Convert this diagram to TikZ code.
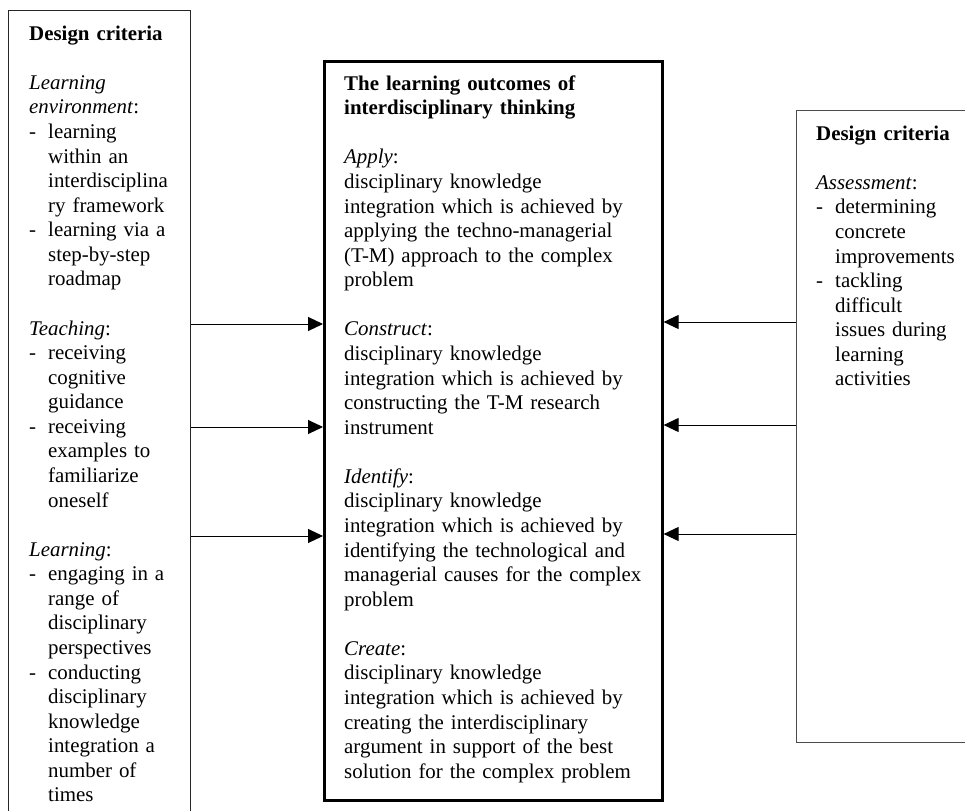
\documentclass[tikz,border=0pt]{standalone}
\usepackage{fontspec}
\setmainfont{Liberation Serif}
\usetikzlibrary{arrows.meta}

% body text: Times-like, 1.15 line spacing
\newcommand\bodyfont{\fontsize{20.9pt}{24.57pt}\selectfont}
\newcommand\dashitem{\makebox[19pt][l]{-}}
\newcommand\contline{\hspace*{19pt}}
\newcommand\firstline{\rule{0pt}{22pt}}

\tikzset{
  leftframe/.style={draw=black!85, line width=1.2pt, inner sep=0pt, anchor=north west},
  midframe/.style={draw=black, line width=2.6pt, inner sep=0pt, anchor=north west},
  rightframe/.style={draw=black!70, line width=1.4pt, inner sep=0pt, anchor=north west},
  textcol/.style={anchor=north west, inner sep=0pt, align=left, text width=#1, font=\bodyfont},
  feed/.style={draw=black, line width=1pt, -{Triangle[length=15pt,width=14pt]}},
}

\begin{document}
\begin{tikzpicture}[x=1pt,y=-1pt]
\useasboundingbox (0,0) rectangle (965,810);
\clip (0,0) rectangle (965,810);

% frames
\node[leftframe, minimum width=182pt, minimum height=830pt] (L) at (8,10) {};
\node[midframe, minimum width=338pt, minimum height=739pt] (C) at (323,60) {};
\node[rightframe, minimum width=200pt, minimum height=632pt] (R) at (796,110) {};

% left column: design criteria
\node[textcol=158pt] (Ltext) at (29,18) {\firstline\textbf{Design criteria}\\[24.57pt]
\textit{Learning}\\
\textit{environment}:\\
\dashitem learning\\
\contline within an\\
\contline interdisciplina\\
\contline ry framework\\
\dashitem learning via a\\
\contline step-by-step\\
\contline roadmap\\[24.57pt]
\textit{Teaching}:\\
\dashitem receiving\\
\contline cognitive\\
\contline guidance\\
\dashitem receiving\\
\contline examples to\\
\contline familiarize\\
\contline oneself\\[24.57pt]
\textit{Learning}:\\
\dashitem engaging in a\\
\contline range of\\
\contline disciplinary\\
\contline perspectives\\
\dashitem conducting\\
\contline disciplinary\\
\contline knowledge\\
\contline integration a\\
\contline number of\\
\contline times};

% middle column: learning outcomes
\node[textcol=310pt] (Ctext) at (344,68) {\firstline\textbf{The learning outcomes of}\\
\textbf{interdisciplinary thinking}\\[24.57pt]
\textit{Apply}:\\
disciplinary knowledge\\
integration which is achieved by\\
applying the techno-managerial\\
(T-M) approach to the complex\\
problem\\[24.57pt]
\textit{Construct}:\\
disciplinary knowledge\\
integration which is achieved by\\
constructing the T-M research\\
instrument\\[24.57pt]
\textit{Identify}:\\
disciplinary knowledge\\
integration which is achieved by\\
identifying the technological and\\
managerial causes for the complex\\
problem\\[24.57pt]
\textit{Create}:\\
disciplinary knowledge\\
integration which is achieved by\\
creating the interdisciplinary\\
argument in support of the best\\
solution for the complex problem};

% right column: assessment criteria
\node[textcol=149pt] (Rtext) at (816,118) {\firstline\textbf{Design criteria}\\[24.57pt]
\textit{Assessment}:\\
\dashitem determining\\
\contline concrete\\
\contline improvements\\
\dashitem tackling\\
\contline difficult\\
\contline issues during\\
\contline learning\\
\contline activities};

% connectors into the outcomes box
\draw[feed] (L.east |- 0,324) -- (C.west |- 0,324);
\draw[feed] (L.east |- 0,427) -- (C.west |- 0,427);
\draw[feed] (L.east |- 0,536) -- (C.west |- 0,536);
\draw[feed] (R.west |- 0,322) -- (C.east |- 0,322);
\draw[feed] (R.west |- 0,425) -- (C.east |- 0,425);
\draw[feed] (R.west |- 0,534) -- (C.east |- 0,534);
\end{tikzpicture}
\end{document}
